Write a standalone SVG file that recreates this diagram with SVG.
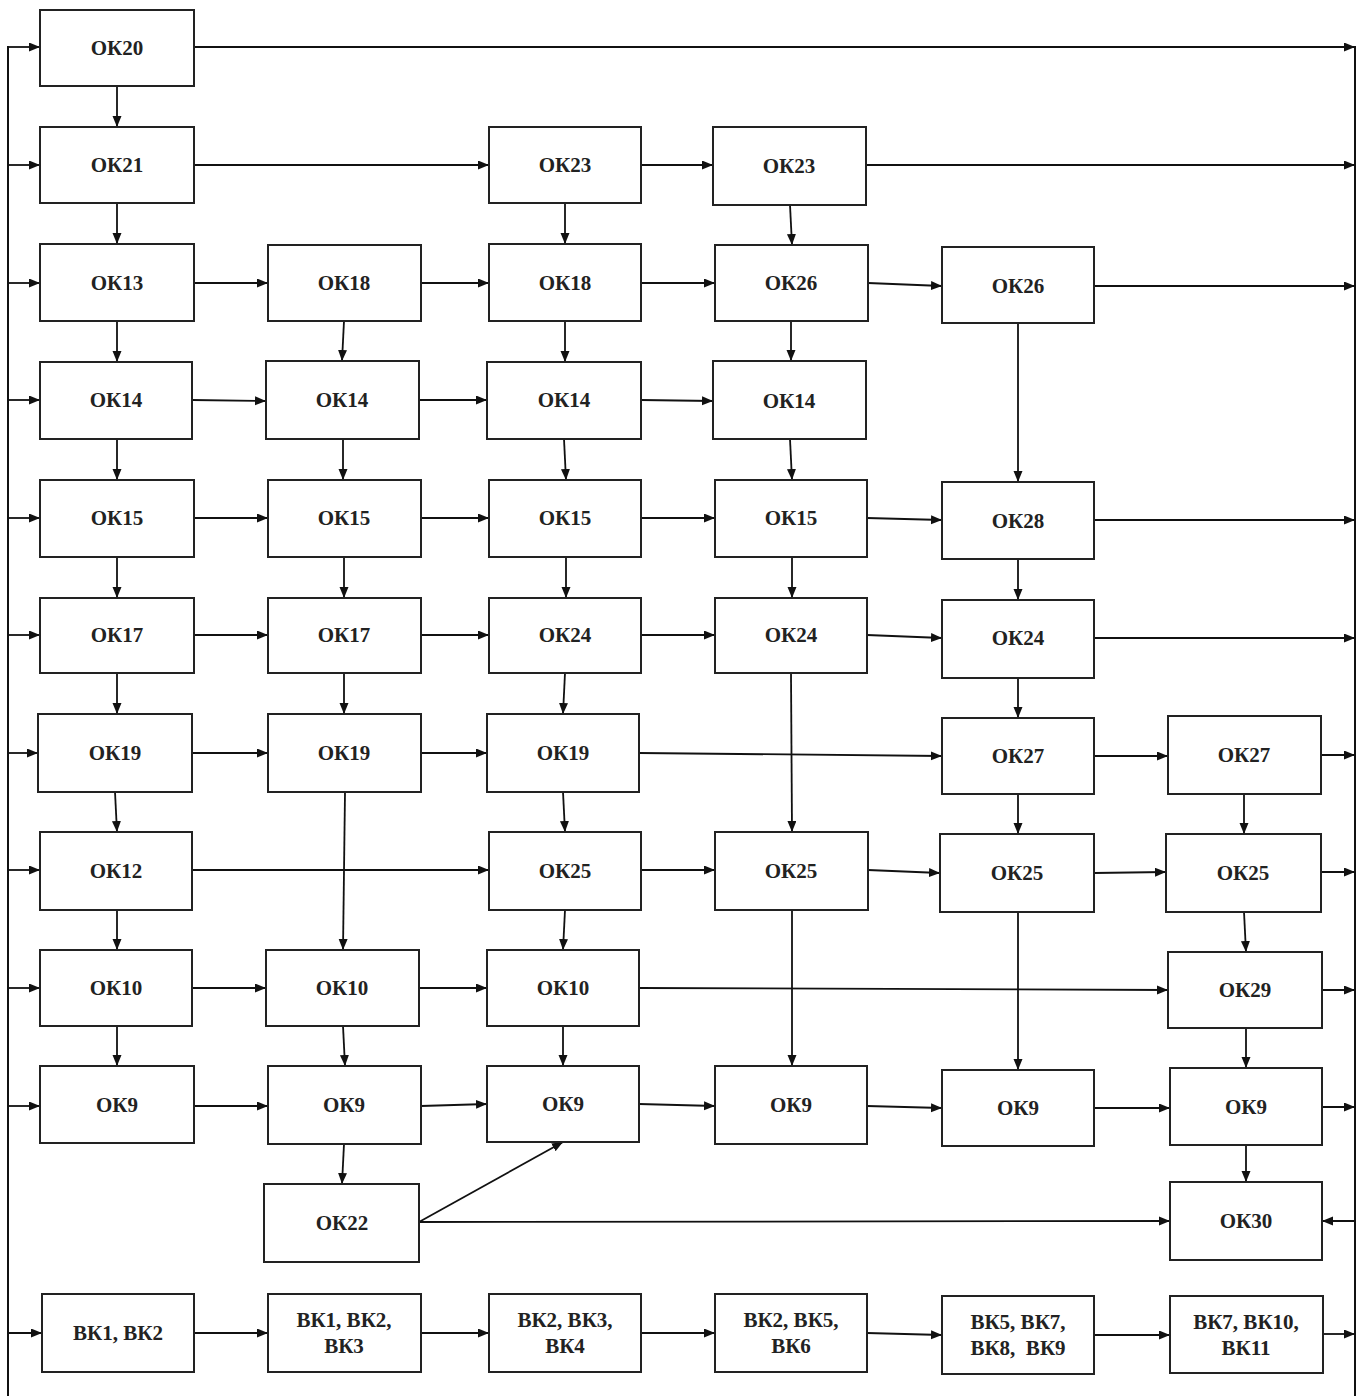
<svg xmlns="http://www.w3.org/2000/svg" width="1366" height="1396" viewBox="0 0 1366 1396">
<defs>
<marker id="ah" markerUnits="userSpaceOnUse" markerWidth="12" markerHeight="10" refX="11" refY="4.5" orient="auto">
<path d="M0,0 L11,4.5 L0,9 z" fill="#111"/>
</marker>
</defs>
<style>
.n rect{fill:#fff;stroke:#222;stroke-width:2}
.n text{font-family:"Liberation Serif","Times New Roman",serif;font-weight:bold;font-size:21px;fill:#222;text-anchor:middle}
.c line{stroke:#111;stroke-width:1.8;marker-end:url(#ah)}
.c .bus{marker-end:none;stroke-width:2}
</style>
<rect width="1366" height="1396" fill="#fff"/>
<g class="c" id="connectors">
<line class="bus" x1="8" y1="46" x2="8" y2="1396"/>
<line class="bus" x1="1355" y1="46" x2="1355" y2="1396"/>
<!-- left bus inputs -->
<line x1="8" y1="47" x2="40" y2="47"/>
<line x1="8" y1="165" x2="40" y2="165"/>
<line x1="8" y1="283" x2="40" y2="283"/>
<line x1="8" y1="400" x2="40" y2="400"/>
<line x1="8" y1="518" x2="40" y2="518"/>
<line x1="8" y1="635" x2="40" y2="635"/>
<line x1="8" y1="753" x2="38" y2="753"/>
<line x1="8" y1="870" x2="40" y2="870"/>
<line x1="8" y1="988" x2="40" y2="988"/>
<line x1="8" y1="1106" x2="40" y2="1106"/>
<line x1="8" y1="1333" x2="42" y2="1333"/>
<!-- right bus outputs -->
<line x1="194" y1="47" x2="1355" y2="47"/>
<line x1="866" y1="165" x2="1355" y2="165"/>
<line x1="1094" y1="286" x2="1355" y2="286"/>
<line x1="1094" y1="520" x2="1355" y2="520"/>
<line x1="1094" y1="638" x2="1355" y2="638"/>
<line x1="1321" y1="755" x2="1355" y2="755"/>
<line x1="1321" y1="872" x2="1355" y2="872"/>
<line x1="1322" y1="990" x2="1355" y2="990"/>
<line x1="1322" y1="1107" x2="1355" y2="1107"/>
<line x1="1355" y1="1221" x2="1322" y2="1221"/>
<line x1="1323" y1="1334" x2="1355" y2="1334"/>
<!-- horizontal -->
<line x1="194" y1="165" x2="489" y2="165"/>
<line x1="641" y1="165" x2="713" y2="165"/>
<line x1="194" y1="283" x2="268" y2="283"/>
<line x1="421" y1="283" x2="489" y2="283"/>
<line x1="641" y1="283" x2="715" y2="283"/>
<line x1="868" y1="283" x2="942" y2="286"/>
<line x1="192" y1="400" x2="266" y2="401"/>
<line x1="419" y1="400" x2="487" y2="400"/>
<line x1="641" y1="400" x2="713" y2="401"/>
<line x1="194" y1="518" x2="268" y2="518"/>
<line x1="421" y1="518" x2="489" y2="518"/>
<line x1="641" y1="518" x2="715" y2="518"/>
<line x1="867" y1="518" x2="942" y2="520"/>
<line x1="194" y1="635" x2="268" y2="635"/>
<line x1="421" y1="635" x2="489" y2="635"/>
<line x1="641" y1="635" x2="715" y2="635"/>
<line x1="867" y1="635" x2="942" y2="638"/>
<line x1="192" y1="753" x2="268" y2="753"/>
<line x1="421" y1="753" x2="487" y2="753"/>
<line x1="639" y1="753" x2="942" y2="756"/>
<line x1="1094" y1="756" x2="1168" y2="756"/>
<line x1="192" y1="870" x2="489" y2="870"/>
<line x1="641" y1="870" x2="715" y2="870"/>
<line x1="868" y1="870" x2="940" y2="873"/>
<line x1="1094" y1="873" x2="1166" y2="872"/>
<line x1="192" y1="988" x2="266" y2="988"/>
<line x1="419" y1="988" x2="487" y2="988"/>
<line x1="639" y1="988" x2="1168" y2="990"/>
<line x1="194" y1="1106" x2="268" y2="1106"/>
<line x1="421" y1="1106" x2="487" y2="1104"/>
<line x1="639" y1="1104" x2="715" y2="1106"/>
<line x1="867" y1="1106" x2="942" y2="1108"/>
<line x1="1094" y1="1108" x2="1170" y2="1108"/>
<line x1="419" y1="1222" x2="1170" y2="1221"/>
<line x1="419" y1="1222" x2="563" y2="1142"/>
<line x1="194" y1="1333" x2="268" y2="1333"/>
<line x1="421" y1="1333" x2="489" y2="1333"/>
<line x1="641" y1="1333" x2="715" y2="1333"/>
<line x1="867" y1="1333" x2="942" y2="1335"/>
<line x1="1094" y1="1335" x2="1170" y2="1335"/>
<!-- vertical col1 -->
<line x1="117" y1="86" x2="117" y2="127"/>
<line x1="117" y1="203" x2="117" y2="244"/>
<line x1="117" y1="321" x2="117" y2="362"/>
<line x1="117" y1="439" x2="117" y2="480"/>
<line x1="117" y1="557" x2="117" y2="598"/>
<line x1="117" y1="673" x2="117" y2="714"/>
<line x1="115" y1="792" x2="117" y2="832"/>
<line x1="117" y1="910" x2="117" y2="950"/>
<line x1="117" y1="1026" x2="117" y2="1066"/>
<!-- col2 -->
<line x1="344" y1="321" x2="342" y2="361"/>
<line x1="343" y1="439" x2="343" y2="480"/>
<line x1="344" y1="557" x2="344" y2="598"/>
<line x1="344" y1="673" x2="344" y2="714"/>
<line x1="345" y1="792" x2="343" y2="950"/>
<line x1="343" y1="1026" x2="345" y2="1066"/>
<line x1="344" y1="1144" x2="342" y2="1184"/>
<!-- col3 -->
<line x1="565" y1="203" x2="565" y2="244"/>
<line x1="565" y1="321" x2="565" y2="362"/>
<line x1="564" y1="439" x2="566" y2="480"/>
<line x1="566" y1="557" x2="566" y2="598"/>
<line x1="565" y1="673" x2="563" y2="714"/>
<line x1="563" y1="792" x2="565" y2="832"/>
<line x1="565" y1="910" x2="563" y2="950"/>
<line x1="563" y1="1026" x2="563" y2="1066"/>
<!-- col4 -->
<line x1="790" y1="205" x2="792" y2="245"/>
<line x1="791" y1="321" x2="791" y2="361"/>
<line x1="790" y1="439" x2="792" y2="480"/>
<line x1="792" y1="557" x2="792" y2="598"/>
<line x1="791" y1="673" x2="792" y2="832"/>
<line x1="792" y1="910" x2="792" y2="1066"/>
<!-- col5 -->
<line x1="1018" y1="323" x2="1018" y2="482"/>
<line x1="1018" y1="559" x2="1018" y2="600"/>
<line x1="1018" y1="678" x2="1018" y2="718"/>
<line x1="1018" y1="794" x2="1018" y2="834"/>
<line x1="1018" y1="912" x2="1018" y2="1070"/>
<!-- col6 -->
<line x1="1244" y1="794" x2="1244" y2="834"/>
<line x1="1244" y1="912" x2="1246" y2="952"/>
<line x1="1246" y1="1028" x2="1246" y2="1068"/>
<line x1="1246" y1="1145" x2="1246" y2="1182"/>
</g>
<g class="n" id="ok20"><rect x="40" y="10" width="154" height="76"/><text x="117" y="55">ОК20</text></g>
<g class="n" id="ok21"><rect x="40" y="127" width="154" height="76"/><text x="117" y="172">ОК21</text></g>
<g class="n" id="ok23a"><rect x="489" y="127" width="152" height="76"/><text x="565" y="172">ОК23</text></g>
<g class="n" id="ok23b"><rect x="713" y="127" width="153" height="78"/><text x="789" y="173">ОК23</text></g>
<g class="n" id="ok13"><rect x="40" y="244" width="154" height="77"/><text x="117" y="290">ОК13</text></g>
<g class="n" id="ok18a"><rect x="268" y="245" width="153" height="76"/><text x="344" y="290">ОК18</text></g>
<g class="n" id="ok18b"><rect x="489" y="244" width="152" height="77"/><text x="565" y="290">ОК18</text></g>
<g class="n" id="ok26a"><rect x="715" y="245" width="153" height="76"/><text x="791" y="290">ОК26</text></g>
<g class="n" id="ok26b"><rect x="942" y="247" width="152" height="76"/><text x="1018" y="293">ОК26</text></g>
<g class="n" id="ok14a"><rect x="40" y="362" width="152" height="77"/><text x="116" y="407">ОК14</text></g>
<g class="n" id="ok14b"><rect x="266" y="361" width="153" height="78"/><text x="342" y="407">ОК14</text></g>
<g class="n" id="ok14c"><rect x="487" y="362" width="154" height="77"/><text x="564" y="407">ОК14</text></g>
<g class="n" id="ok14d"><rect x="713" y="361" width="153" height="78"/><text x="789" y="408">ОК14</text></g>
<g class="n" id="ok15a"><rect x="40" y="480" width="154" height="77"/><text x="117" y="525">ОК15</text></g>
<g class="n" id="ok15b"><rect x="268" y="480" width="153" height="77"/><text x="344" y="525">ОК15</text></g>
<g class="n" id="ok15c"><rect x="489" y="480" width="152" height="77"/><text x="565" y="525">ОК15</text></g>
<g class="n" id="ok15d"><rect x="715" y="480" width="152" height="77"/><text x="791" y="525">ОК15</text></g>
<g class="n" id="ok28"><rect x="942" y="482" width="152" height="77"/><text x="1018" y="528">ОК28</text></g>
<g class="n" id="ok17a"><rect x="40" y="598" width="154" height="75"/><text x="117" y="642">ОК17</text></g>
<g class="n" id="ok17b"><rect x="268" y="598" width="153" height="75"/><text x="344" y="642">ОК17</text></g>
<g class="n" id="ok24a"><rect x="489" y="598" width="152" height="75"/><text x="565" y="642">ОК24</text></g>
<g class="n" id="ok24b"><rect x="715" y="598" width="152" height="75"/><text x="791" y="642">ОК24</text></g>
<g class="n" id="ok24c"><rect x="942" y="600" width="152" height="78"/><text x="1018" y="645">ОК24</text></g>
<g class="n" id="ok19a"><rect x="38" y="714" width="154" height="78"/><text x="115" y="760">ОК19</text></g>
<g class="n" id="ok19b"><rect x="268" y="714" width="153" height="78"/><text x="344" y="760">ОК19</text></g>
<g class="n" id="ok19c"><rect x="487" y="714" width="152" height="78"/><text x="563" y="760">ОК19</text></g>
<g class="n" id="ok27a"><rect x="942" y="718" width="152" height="76"/><text x="1018" y="763">ОК27</text></g>
<g class="n" id="ok27b"><rect x="1168" y="716" width="153" height="78"/><text x="1244" y="762">ОК27</text></g>
<g class="n" id="ok12"><rect x="40" y="832" width="152" height="78"/><text x="116" y="878">ОК12</text></g>
<g class="n" id="ok25a"><rect x="489" y="832" width="152" height="78"/><text x="565" y="878">ОК25</text></g>
<g class="n" id="ok25b"><rect x="715" y="832" width="153" height="78"/><text x="791" y="878">ОК25</text></g>
<g class="n" id="ok25c"><rect x="940" y="834" width="154" height="78"/><text x="1017" y="880">ОК25</text></g>
<g class="n" id="ok25d"><rect x="1166" y="834" width="155" height="78"/><text x="1243" y="880">ОК25</text></g>
<g class="n" id="ok10a"><rect x="40" y="950" width="152" height="76"/><text x="116" y="995">ОК10</text></g>
<g class="n" id="ok10b"><rect x="266" y="950" width="153" height="76"/><text x="342" y="995">ОК10</text></g>
<g class="n" id="ok10c"><rect x="487" y="950" width="152" height="76"/><text x="563" y="995">ОК10</text></g>
<g class="n" id="ok29"><rect x="1168" y="952" width="154" height="76"/><text x="1245" y="997">ОК29</text></g>
<g class="n" id="ok9a"><rect x="40" y="1066" width="154" height="77"/><text x="117" y="1112">ОК9</text></g>
<g class="n" id="ok9b"><rect x="268" y="1066" width="153" height="78"/><text x="344" y="1112">ОК9</text></g>
<g class="n" id="ok9c"><rect x="487" y="1066" width="152" height="76"/><text x="563" y="1111">ОК9</text></g>
<g class="n" id="ok9d"><rect x="715" y="1066" width="152" height="78"/><text x="791" y="1112">ОК9</text></g>
<g class="n" id="ok9e"><rect x="942" y="1070" width="152" height="76"/><text x="1018" y="1115">ОК9</text></g>
<g class="n" id="ok9f"><rect x="1170" y="1068" width="152" height="77"/><text x="1246" y="1114">ОК9</text></g>
<g class="n" id="ok22"><rect x="264" y="1184" width="155" height="78"/><text x="342" y="1230">ОК22</text></g>
<g class="n" id="ok30"><rect x="1170" y="1182" width="152" height="78"/><text x="1246" y="1228">ОК30</text></g>
<g class="n" id="bk1"><rect x="42" y="1294" width="152" height="78"/><text x="118" y="1340">ВК1, ВК2</text></g>
<g class="n" id="bk2"><rect x="268" y="1294" width="153" height="78"/><text x="344" y="1327">ВК1, ВК2,</text><text x="344" y="1353">ВК3</text></g>
<g class="n" id="bk3"><rect x="489" y="1294" width="152" height="78"/><text x="565" y="1327">ВК2, ВК3,</text><text x="565" y="1353">ВК4</text></g>
<g class="n" id="bk4"><rect x="715" y="1294" width="152" height="78"/><text x="791" y="1327">ВК2, ВК5,</text><text x="791" y="1353">ВК6</text></g>
<g class="n" id="bk5"><rect x="942" y="1296" width="152" height="78"/><text x="1018" y="1329">ВК5, ВК7,</text><text x="1018" y="1355" xml:space="preserve">ВК8,  ВК9</text></g>
<g class="n" id="bk6"><rect x="1170" y="1296" width="153" height="77"/><text x="1246" y="1329">ВК7, ВК10,</text><text x="1246" y="1355">ВК11</text></g>
</svg>
